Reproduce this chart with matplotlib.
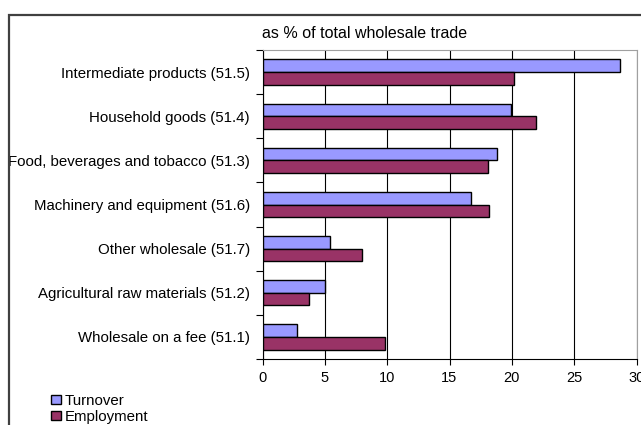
import matplotlib
matplotlib.use("Agg")
import matplotlib.pyplot as plt
from matplotlib.patches import Rectangle
import numpy as np

plt.rcParams['font.family'] = ['Liberation Sans', 'DejaVu Sans']

categories = [
    "Intermediate products (51.5)",
    "Household goods (51.4)",
    "Food, beverages and tobacco (51.3)",
    "Machinery and equipment (51.6)",
    "Other wholesale (51.7)",
    "Agricultural raw materials (51.2)",
    "Wholesale on a fee (51.1)",
]
turnover = [28.7, 19.9, 18.8, 16.7, 5.4, 5.05, 2.8]
employment = [20.2, 21.9, 18.1, 18.2, 8.0, 3.7, 9.8]
series_names = ["Turnover", "Employment"]
xticks = [0, 5, 10, 15, 20, 25, 30]
title = "as % of total wholesale trade"

W, H = 641, 425
fig = plt.figure(figsize=(W / 100, H / 100), dpi=100)
fig.patch.set_facecolor('white')

# outer chart frame (clipped at right and bottom)
frame = Rectangle((9 / W, -0.2), 1.2, 1 - 15 / H + 0.2, transform=fig.transFigure,
                  fill=False, edgecolor='#404040', linewidth=1.6, clip_on=False)
fig.patches.append(frame)

left, right, top, bottom = 262.5, 636.5, 50, 359
ax = fig.add_axes([left / W, 1 - bottom / H, (right - left) / W, (bottom - top) / H])

n = len(categories)
y = np.arange(n)
h = 0.285
b1 = ax.barh(y - h / 2, turnover, height=h, color='#9999FF', edgecolor='black',
             linewidth=1.0, zorder=3, label=series_names[0])
b2 = ax.barh(y + h / 2, employment, height=h, color='#993366', edgecolor='black',
             linewidth=1.0, zorder=3, label=series_names[1])

ax.set_ylim(n - 0.5, -0.5)
ax.set_xlim(0, 30)
ax.set_xticks(xticks)
ax.set_xticklabels([str(t) for t in xticks], fontsize=10.5)
ax.set_yticks(y)
ax.set_yticklabels(categories, fontsize=10.8)
ax.set_yticks(np.arange(-0.5, n, 1.0), minor=True)
ax.tick_params(axis='y', which='major', length=0, pad=9)
ax.tick_params(axis='y', which='minor', length=5, width=0.8, direction='out', color='black')
ax.tick_params(axis='x', which='major', length=4, width=0.8, direction='out', pad=5)

ax.xaxis.grid(True, color='black', linewidth=0.8, zorder=0)
ax.set_axisbelow(True)
for s in ['top', 'right']:
    ax.spines[s].set_color('#a0a0a0')
    ax.spines[s].set_linewidth(0.8)
for s in ['left', 'bottom']:
    ax.spines[s].set_color('black')
    ax.spines[s].set_linewidth(0.8)

fig.text(262 / W, 1 - 33 / H, title, fontsize=11.5, ha='left', va='center')

fig.legend(handles=[b1, b2], labels=series_names, loc='upper left',
           bbox_to_anchor=(51 / W, 1 - 394 / H), frameon=False, fontsize=10.8,
           handlelength=0.65, handleheight=0.55, handletextpad=0.25,
           labelspacing=0.15, borderpad=0, borderaxespad=0)

fig.savefig('out.png', dpi=100)
